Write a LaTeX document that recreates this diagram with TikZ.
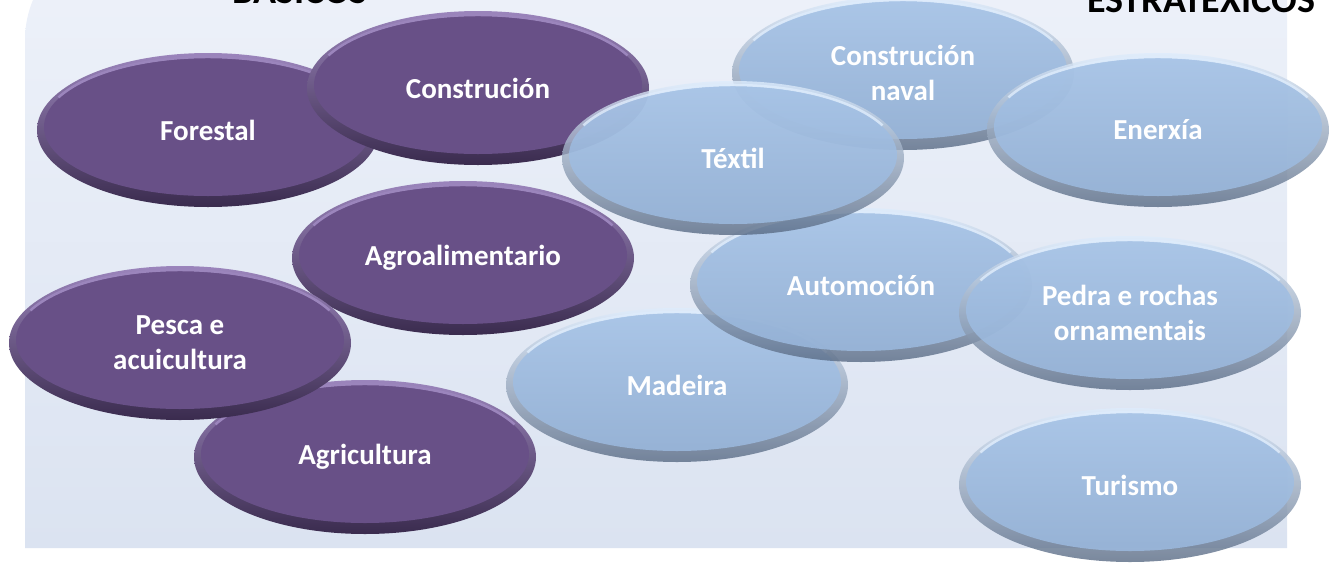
\documentclass[tikz,border=0pt]{standalone}
\usepackage{fontspec}
\setmainfont{Carlito}
\usetikzlibrary{shapes.geometric}

\definecolor{fondoArriba}{RGB}{238,242,250}
\definecolor{fondoAbaixo}{RGB}{219,227,241}
\definecolor{lila}{RGB}{104,80,135}
\definecolor{lilaClaro}{RGB}{155,133,188}
\definecolor{lilaEscuro}{RGB}{58,43,78}
\definecolor{azul}{RGB}{158,189,227}
\definecolor{azulClaro}{RGB}{222,236,252}
\definecolor{azulEscuro}{RGB}{88,106,132}

\tikzset{
  burbulla/.style={ellipse, inner sep=0pt, minimum width=342pt, minimum height=154pt,
    text=white, align=center, font=\bfseries\fontsize{29}{35}\selectfont},
  basico/.style={burbulla, top color=lilaClaro, middle color=lila, bottom color=lilaEscuro,
    path picture={
      \fill[lila] ([yshift=3pt]path picture bounding box.center) ellipse (164pt and 69pt);
      \draw[lilaClaro, line width=2.5pt]
        ([yshift=3pt]path picture bounding box.center) ++(25:165pt and 70pt)
        arc[start angle=25, end angle=155, x radius=165pt, y radius=70pt];
    }},
  estratexico/.style={burbulla, top color=azulClaro, middle color=azul, bottom color=azulEscuro,
    fill opacity=0.8, text opacity=1,
    path picture={
      \fill[azul, fill opacity=0.8] ([yshift=3pt]path picture bounding box.center) ellipse (164pt and 69pt);
      \draw[azulClaro, line width=2.5pt, draw opacity=0.8]
        ([yshift=3pt]path picture bounding box.center) ++(25:165pt and 70pt)
        arc[start angle=25, end angle=155, x radius=165pt, y radius=70pt];
    }},
  cabeceira/.style={anchor=base, font=\bfseries\fontsize{38}{44}\selectfont}
}

\begin{document}
\begin{tikzpicture}[x=1pt, y=-1pt]
\useasboundingbox (0,0) rectangle (1334,563);

% fondo
\shade[top color=fondoArriba, bottom color=fondoAbaixo]
  (25,548) [rounded corners=104pt] -- (25,-64) [sharp corners] -- (1287,-64) -- (1287,548) -- cycle;

\node[cabeceira] (basicos) at (300,3) {BÁSICOS};
\node[cabeceira] (estratexicos) at (1201,12) {ESTRATÉXICOS};

% sectores basicos
\node[basico] (forestal) at (208,130) {Forestal};
\node[basico] (construcion) at (478,88) {Construción};
\node[basico] (agroalimentario) at (463,258) {Agroalimentario};
\node[basico] (agricultura) at (365,457) {Agricultura};
\node[basico] (pesca) at (180,343) {Pesca e\\acuicultura};

% sectores estratexicos
\node[estratexico] (madeira) at (677,385) {Madeira};
\node[estratexico] (automocion) at (861,285) {Automoción};
\node[estratexico] (pedra) at (1130,313) {Pedra e rochas\\ornamentais};
\node[estratexico] (turismo) at (1130,485) {Turismo};
\node[estratexico] (naval) at (903,73) {Construción\\naval};
\node[estratexico] (enerxia) at (1158,130) {Enerxía};
\node[estratexico] (textil) at (733,158) {Téxtil};

\end{tikzpicture}
\end{document}
